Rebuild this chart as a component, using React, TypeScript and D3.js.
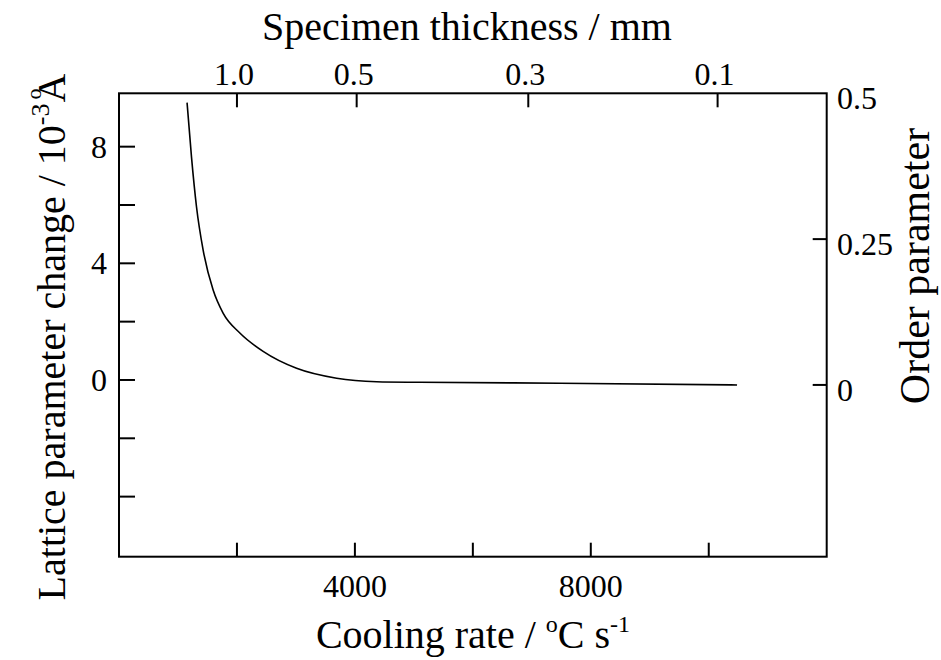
import React from "react";
import * as d3 from "d3";

// Data
const coolingRate = [1154, 1229, 1314, 1426, 1595, 1765, 2049, 2444, 3011, 3690, 4369, 5104, 7480, 10480];
const latticeChange = [9.51, 7.65, 5.94, 4.46, 3.09, 2.29, 1.61, 0.98, 0.4, 0.06, -0.06, -0.08, -0.11, -0.17];

const bottomTicks = [2000, 4000, 6000, 8000, 10000];
const bottomLabels = [4000, 8000];
const leftTicks = [-4, -2, 0, 2, 4, 6, 8];
const leftLabels = [0, 4, 8];
const rightTicks = [0, 0.25, 0.5];
const rightLabels = ["0", "0.25", "0.5"];
const topTickRates = [2000, 4030, 6940, 10150];
const topTickLabels = ["1.0", "0.5", "0.3", "0.1"];

const W = 941;
const H = 660;
const L = 119;
const R = 826.7;
const T = 93.3;
const B = 556.7;

export default function App() {
  const x = d3.scaleLinear().domain([0, 12000]).range([L, R]);
  const y = d3.scaleLinear().domain([-6.06, 9.83]).range([B, T]);
  const yR = d3.scaleLinear().domain([-0.2945, 0.5]).range([B, T]);
  const pts: [number, number][] = coolingRate.map((c, i) => [c, latticeChange[i]]);
  const line = d3
    .line<[number, number]>()
    .x((d) => x(d[0]))
    .y((d) => y(d[1]))
    .curve(d3.curveMonotoneX);
  const font = "'Liberation Serif', 'Times New Roman', serif";
  const tickLen = 14;
  return (
    <svg
      width={W}
      height={H}
      style={{ position: "absolute", left: 0, top: 0, background: "#fff" }}
      fontFamily={font}
    >
      <rect x={0} y={0} width={W} height={H} fill="#fff" />
      <rect x={L} y={T} width={R - L} height={B - T} fill="none" stroke="#000" strokeWidth={2} />
      {/* bottom ticks */}
      {bottomTicks.map((t) => (
        <line key={"b" + t} x1={x(t)} x2={x(t)} y1={B} y2={B - tickLen} stroke="#000" strokeWidth={2} />
      ))}
      {bottomLabels.map((t) => (
        <text key={"bl" + t} x={x(t)} y={597} fontSize={32} textAnchor="middle" fill="#000">
          {t}
        </text>
      ))}
      {/* top ticks */}
      {topTickRates.map((t, i) => (
        <g key={"t" + i}>
          <line x1={x(t)} x2={x(t)} y1={T} y2={T + tickLen} stroke="#000" strokeWidth={2} />
          <text x={x(t) - 3} y={85} fontSize={32} textAnchor="middle" fill="#000">
            {topTickLabels[i]}
          </text>
        </g>
      ))}
      {/* left ticks */}
      {leftTicks.map((t) => (
        <line key={"l" + t} x1={L} x2={L + 16} y1={y(t)} y2={y(t)} stroke="#000" strokeWidth={2} />
      ))}
      {leftLabels.map((t) => (
        <text key={"ll" + t} x={107} y={y(t) + 11} fontSize={32} textAnchor="end" fill="#000">
          {t}
        </text>
      ))}
      {/* right ticks */}
      {rightTicks.map((t, i) => (
        <g key={"r" + t}>
          {t < 0.5 && (
            <line x1={R} x2={R - tickLen} y1={yR(t)} y2={yR(t)} stroke="#000" strokeWidth={2} />
          )}
          <text x={837} y={yR(t) + 16} fontSize={32} textAnchor="start" fill="#000">
            {rightLabels[i]}
          </text>
        </g>
      ))}
      {/* curve */}
      <path d={line(pts) || ""} fill="none" stroke="#000" strokeWidth={1.6} />
      {/* titles */}
      <text x={467} y={40} fontSize={40} textAnchor="middle" fill="#000">
        Specimen thickness / mm
      </text>
      <text x={473} y={648} fontSize={40} textAnchor="middle" fill="#000">
        Cooling rate / <tspan fontSize={24} dy={-16}>o</tspan>
        <tspan dy={16}>C s</tspan>
        <tspan fontSize={24} dy={-16}>-1</tspan>
      </text>
      <text
        transform={`translate(65, 337) rotate(-90)`}
        fontSize={40}
        textAnchor="middle"
        fill="#000"
      >
        Lattice parameter change / 10<tspan fontSize={26} dy={-16}>-3</tspan>
        <tspan fontSize={22} dy={-8} dx={4}>o</tspan>
        <tspan dy={24} dx={-14}>A</tspan>
      </text>
      <text
        transform={`translate(929, 266) rotate(-90)`}
        fontSize={42}
        textAnchor="middle"
        fill="#000"
      >
        Order parameter
      </text>
    </svg>
  );
}
